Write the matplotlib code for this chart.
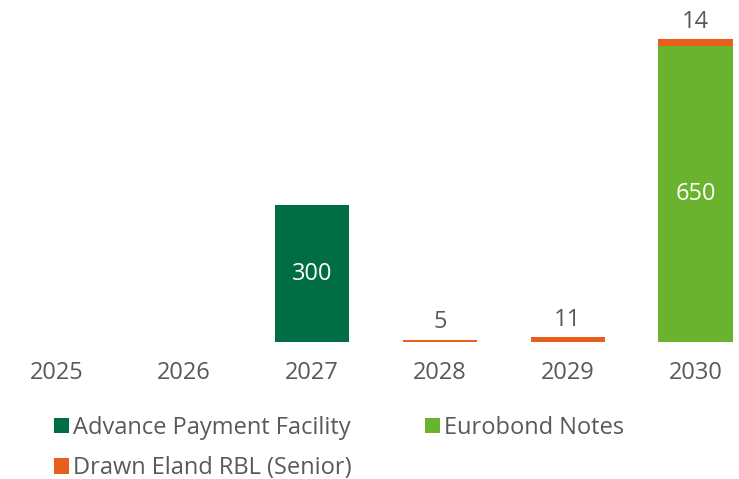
import matplotlib.pyplot as plt
import numpy as np

# --- dane ---
lata = ['2025', '2026', '2027', '2028', '2029', '2030']
advance_payment = [0, 0, 300, 0, 0, 0]
eurobond = [0, 0, 0, 0, 0, 650]
drawn_rbl = [0, 0, 0, 5, 11, 14]

kolor_apf = '#006D44'
kolor_euro = '#69B32E'
kolor_rbl = '#E85E1C'
szary = '#595959'
fs = 17

plt.rcParams['font.family'] = ['Open Sans', 'DejaVu Sans']

fig = plt.figure(figsize=(7.39, 4.79), dpi=100)
ax = fig.add_axes([0, 0.286, 1, 0.693])

x = np.arange(len(lata))
w = 0.58
apf = np.array(advance_payment)
eur = np.array(eurobond)
rbl = np.array(drawn_rbl)

b1 = ax.bar(x, apf, w, color=kolor_apf, label='Advance Payment Facility')
b2 = ax.bar(x, eur, w, bottom=apf, color=kolor_euro, label='Eurobond Notes')
b3 = ax.bar(x, rbl, w, bottom=apf + eur, color=kolor_rbl, label='Drawn Eland RBL (Senior)')

# etykiety wartosci
for i in range(len(lata)):
    if apf[i] > 0:
        ax.text(x[i], apf[i] / 2, f'{apf[i]}', ha='center', va='center', color='white', fontsize=fs)
    if eur[i] > 0:
        ax.text(x[i], apf[i] + eur[i] / 2, f'{eur[i]}', ha='center', va='center', color='white', fontsize=fs)
    if rbl[i] > 0:
        top = apf[i] + eur[i] + rbl[i]
        ax.text(x[i], top + 12, f'{rbl[i]}', ha='center', va='bottom', color=szary, fontsize=fs)

ax.set_xlim(-0.44, 5.34)
ax.set_ylim(0, 728)
ax.set_xticks(x)
ax.set_xticklabels(lata, fontsize=fs, color=szary)
ax.tick_params(axis='x', length=0, pad=14)
ax.set_yticks([])
for s in ax.spines.values():
    s.set_visible(False)

fig.legend(handles=[b1, b3, b2], ncol=2, loc='upper left', bbox_to_anchor=(0.073, 0.132),
           frameon=False, fontsize=fs, labelcolor=szary, handlelength=0.65, handleheight=0.65,
           handletextpad=0.15, columnspacing=3.1, labelspacing=0.7, borderaxespad=0, borderpad=0)

fig.savefig('out.png', dpi=100)
